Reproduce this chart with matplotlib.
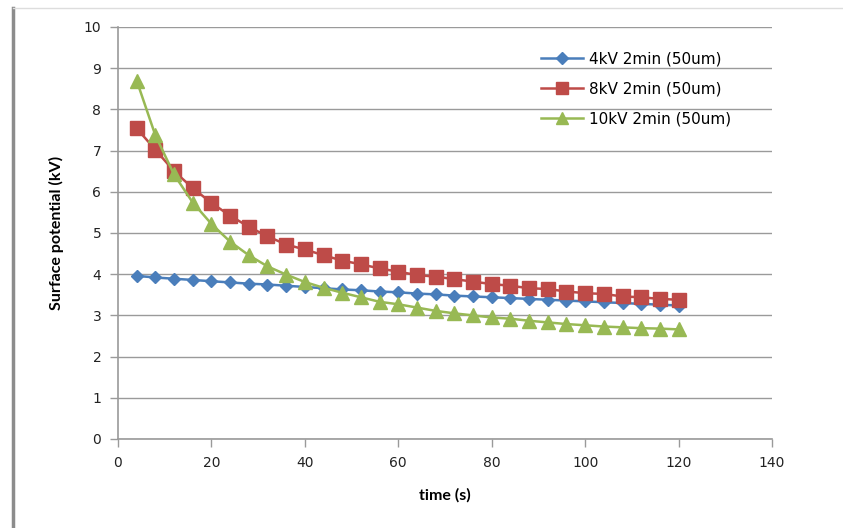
import numpy as np
import matplotlib.pyplot as plt
from matplotlib.lines import Line2D

time_s = list(range(4, 121, 4))

kv4 = [3.96, 3.92, 3.89, 3.86, 3.83, 3.80, 3.77, 3.75, 3.72, 3.69,
       3.66, 3.63, 3.61, 3.58, 3.56, 3.53, 3.51, 3.48, 3.46, 3.44,
       3.42, 3.40, 3.38, 3.36, 3.34, 3.32, 3.30, 3.28, 3.26, 3.24]
kv8 = [7.54, 7.02, 6.50, 6.09, 5.73, 5.42, 5.15, 4.92, 4.72, 4.60,
       4.46, 4.33, 4.24, 4.14, 4.06, 3.98, 3.94, 3.88, 3.82, 3.76,
       3.72, 3.66, 3.64, 3.58, 3.54, 3.52, 3.46, 3.44, 3.40, 3.38]
kv10 = [8.70, 7.37, 6.42, 5.74, 5.22, 4.79, 4.46, 4.19, 3.99, 3.81,
        3.67, 3.55, 3.44, 3.33, 3.27, 3.19, 3.11, 3.05, 3.00, 2.95,
        2.92, 2.87, 2.83, 2.79, 2.76, 2.73, 2.71, 2.69, 2.68, 2.66]

labels = ['4kV 2min (50um)', '8kV 2min (50um)', '10kV 2min (50um)']
colors = ['#4A7EBB', '#BE4B48', '#98B954']

fig = plt.figure(figsize=(8.43, 5.28), dpi=100)
ax = fig.add_axes([118 / 843, 1 - 439 / 528, (772 - 118) / 843, (439 - 27) / 528])

ax.plot(time_s, kv4, color=colors[0], lw=1.8, marker='D', ms=6.5, label=labels[0])
ax.plot(time_s, kv8, color=colors[1], lw=1.8, marker='s', ms=10, label=labels[1])
ax.plot(time_s, kv10, color=colors[2], lw=1.8, marker='^', ms=10, label=labels[2])

ax.set_xlim(0, 140)
ax.set_ylim(0, 10)
ax.set_xticks(np.arange(0, 141, 20))
ax.set_yticks(np.arange(0, 11, 1))
ax.grid(axis='y', color='#9A9A9A', lw=1)
ax.set_axisbelow(True)

for side in ['top', 'right']:
    ax.spines[side].set_visible(False)
for side in ['left', 'bottom']:
    ax.spines[side].set_color('#9A9A9A')
    ax.spines[side].set_linewidth(1.2)
ax.tick_params(direction='out', length=6, color='#9A9A9A', width=1,
               labelsize=10, labelcolor='#222222', pad=6)
for lab in ax.get_xticklabels() + ax.get_yticklabels():
    lab.set_family('DejaVu Sans')

ax.set_xlabel('time (s)', family='Lato', fontweight='bold', fontsize=11.5, labelpad=13)
ax.set_ylabel('Surface potential (kV)', family='Lato', fontweight='bold', fontsize=11.5, labelpad=14)

leg = ax.legend(loc='upper left', bbox_to_anchor=(0.625, 0.975), frameon=False,
                handlelength=2.8, handletextpad=0.35, labelspacing=1.0,
                prop={'family': 'DejaVu Sans', 'size': 11})
for h in leg.legend_handles:
    h.set_markersize(h.get_markersize() * 0.9)

# border of the chart area
fig.add_artist(Line2D([12.5 / 843, 12.5 / 843], [0, 1 - 8 / 528],
                      transform=fig.transFigure, color='#8C8C8C', lw=2.5))
fig.add_artist(Line2D([12.5 / 843, 1], [1 - 8 / 528, 1 - 8 / 528],
                      transform=fig.transFigure, color='#DDDDDD', lw=1))

fig.savefig('out.png', dpi=100)
